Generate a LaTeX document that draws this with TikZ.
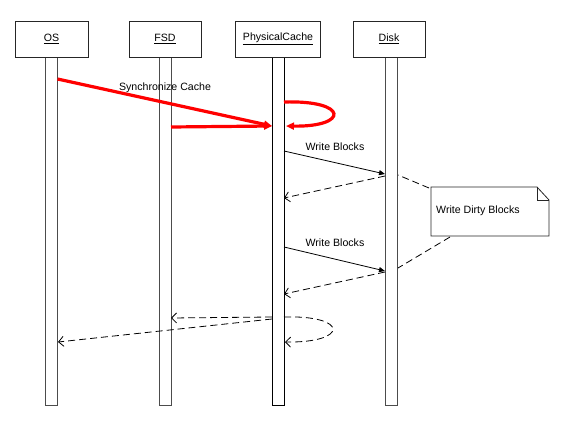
\documentclass[tikz,border=0pt]{standalone}
\usepackage{fontspec}
\setmainfont{Liberation Sans}
\usetikzlibrary{arrows.meta}
\tikzset{
  head/.style={draw=black!85, line width=0.8pt, fill=white, minimum height=36pt, inner sep=0pt, font=\fontsize{10.6}{12}\selectfont},
  lifebar/.style={draw=black!70, line width=0.8pt, fill=white, minimum width=12pt, minimum height=348pt, inner sep=0pt},
  redmsg/.style={draw=red, line width=3.2pt, -{Triangle[length=8pt,width=7pt]}},
  callmsg/.style={draw=black, line width=0.8pt, -{Triangle[length=6pt,width=5pt]}},
  retmsg/.style={draw=black, line width=0.8pt, dash pattern=on 7pt off 4pt, -{Straight Barb[length=5pt,width=10pt]}},
  notelink/.style={draw=black, line width=0.8pt, dash pattern=on 7pt off 4pt},
  lbl/.style={font=\fontsize{10.6}{12}\selectfont, inner sep=0pt}
}
\begin{document}
\begin{tikzpicture}[x=1pt,y=-1pt]
\useasboundingbox (0,0) rectangle (569,422);
% lifeline bars
\node[lifebar] (osbar) at (51.5,231) {};
\node[lifebar] (fsdbar) at (165,231) {};
\node[lifebar, draw=black] (pcbar) at (278,231) {};
\node[lifebar] (diskbar) at (391,231) {};
% headers
\node[head, minimum width=73pt] (os) at (51.5,39) {\underline{OS}};
\node[head, minimum width=72pt] (fsd) at (165,39) {\underline{FSD}};
\node[head, minimum width=85pt] (pc) at (278,39) {\underline{PhysicalCache}};
\node[head, minimum width=72pt] (disk) at (389,39) {\underline{Disk}};
% coordinates on bars
\coordinate (osA) at (57.5,79);
\coordinate (pcA) at (272,126);
\coordinate (fsdA) at (171,127);
\coordinate (pcB) at (284,102);
\coordinate (pcC) at (286,126);
\coordinate (pcD) at (284,151);
\coordinate (diskD) at (385,174);
\coordinate (diskE) at (385,176);
\coordinate (pcE) at (284,198);
\coordinate (pcF) at (284,247);
\coordinate (diskF) at (385,271);
\coordinate (diskG) at (385,272);
\coordinate (pcG) at (284,294);
\coordinate (pcH) at (272,317);
\coordinate (fsdH) at (171,318);
\coordinate (pcI) at (272,319);
\coordinate (osI) at (58,342);
\coordinate (pcJ) at (284,317);
\coordinate (pcK) at (285,342);
\coordinate (diskN1) at (398,175);
\coordinate (diskN2) at (398,268);
% red messages
\draw[redmsg] (osA) -- (pcA);
\draw[redmsg] (fsdA) -- (pcA);
\draw[redmsg] (pcB) .. controls (349,100) and (349,127) .. (pcC);
\node[lbl] (sync) at (165,88) {Synchronize Cache};
% write blocks 1
\draw[callmsg] (pcD) -- (diskD);
\node[lbl] (wb1) at (335,147) {Write Blocks};
\draw[retmsg] (diskE) -- (pcE);
% write blocks 2
\draw[callmsg] (pcF) -- (diskF);
\node[lbl] (wb2) at (335,243) {Write Blocks};
\draw[retmsg] (diskG) -- (pcG);
% final returns
\draw[retmsg] (pcH) -- (fsdH);
\draw[retmsg] (pcI) -- (osI);
\draw[retmsg] (pcJ) .. controls (349,315) and (349,343) .. (pcK);
% note
\draw[draw=black!85, line width=0.8pt, fill=white] (431,187) -- (537,187) -- (549,200) -- (549,236) -- (431,236) -- cycle;
\draw[draw=black!85, line width=0.8pt] (537,187) -- (537,200) -- (549,200);
\coordinate (noteTL) at (429,188);
\coordinate (noteB) at (450,237);
\node[lbl, anchor=west] (note) at (436,211) {Write Dirty Blocks};
\draw[notelink] (noteTL) -- (diskN1);
\draw[notelink] (noteB) -- (diskN2);
\end{tikzpicture}
\end{document}
